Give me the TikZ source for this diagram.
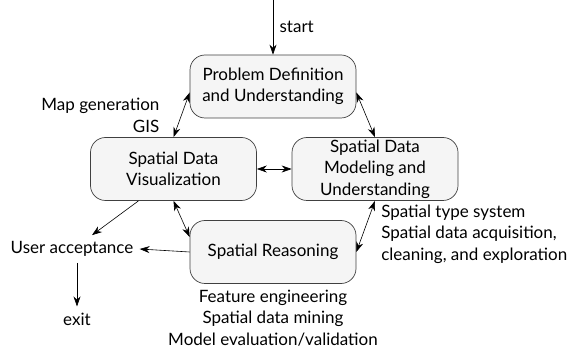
\documentclass[tikz,border=0pt]{standalone}
\usepackage{fontspec}
\setmainfont{Lato}
\usetikzlibrary{arrows.meta}
\tikzset{
  stage/.style={draw=black!75,line width=0.7pt,fill=black!4,rounded corners=15pt,
    minimum width=166pt,minimum height=63pt,align=center,inner sep=2pt},
  note/.style={inner sep=6pt}
}
\begin{document}
\begin{tikzpicture}[x=1pt,y=1pt,>={Stealth[length=10pt,width=7pt]},line width=0.6pt,
  font=\fontsize{17}{21.5}\selectfont]
\useasboundingbox (0,0) rectangle (571,351);
% stages of the cycle
\node[stage] (prob) at (273,264.5) {Problem Definition\\and Understanding};
\node[stage] (vis) at (173.5,182) {Spatial Data\\Visualization};
\node[stage] (model) at (375,182) {Spatial Data\\Modeling and\\Understanding};
\node[stage] (reas) at (273,99) {Spatial Reasoning};
\node[note] (user) at (72,102) {User acceptance};
\node[note] (exit) at (77,32) {exit};
\coordinate (start) at (273,351);
% side notes
\node[align=right,anchor=east] (mapnote) at (163,235.5) {Map generation\\GIS};
\node[align=left,anchor=west,inner sep=0pt] (modnote) at (381,117) {Spatial type system\\Spatial data acquisition,\\cleaning, and exploration};
\node[align=center] (reasnote) at (273,33) {Feature engineering\\Spatial data mining\\Model evaluation/validation};
% connectors
\draw[->] (start) -- node[right,xshift=3pt]{start} (prob.north);
\draw[<->] ([yshift=-6pt]prob.west) -- (vis.north);
\draw[<->] ([yshift=-6pt]prob.east) -- (model.north);
\draw[<->] (vis.east) -- (model.west);
\draw[<->] (vis.south) -- ([yshift=15pt]reas.west);
\draw[<->] (model.south) -- (reas.east);
\draw[->] (reas.west) -- (user.east);
\draw[->] ([xshift=-35pt]vis.south) -- ([xshift=20pt]user.north);
\draw[->] (exit.north |- user.south) -- (exit.north);
\end{tikzpicture}
\end{document}
